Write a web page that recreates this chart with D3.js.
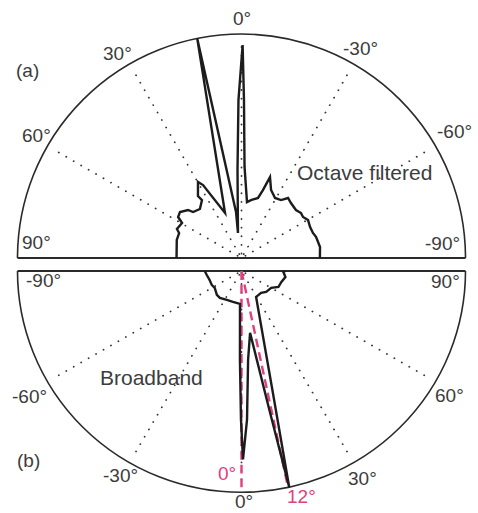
<html>
<head>
<meta charset="utf-8">
<title>Polar directivity</title>
<style>
body { margin:0; background:#fff; }
text { font-family: "Liberation Sans", Arial, Helvetica, sans-serif; fill:#3c3c3c; font-size:19px; }
.rim { fill:none; stroke:#2a2a2a; stroke-width:1.6; }
.base { stroke:#2a2a2a; stroke-width:2; }
.grid { fill:none; stroke:#333; stroke-width:1.8; stroke-linecap:round; stroke-dasharray:0.1 8.5; }
.curve { fill:none; stroke:#1c1c1c; stroke-width:2.4; stroke-linejoin:miter; }
.pink { fill:none; stroke:#e0407e; stroke-width:2.4; stroke-dasharray:9 5; }
</style>
</head>
<body>
<script src="https://d3js.org/d3.v7.min.js"></script>
<script>
// (a) octave filtered, angle in degrees (positive = left, 0 = up), normalised level
var octAngle = [90, 74.4, 68.2, 65.8, 59.5, 57.1, 53.2, 48.1, 46.5, 40.3, 34.3, 35.1, 29.8, 27.8, 20.1, 11.4,
                6.8, 8.0, 2.6, 1.1, -0.3, -0.9, -1.9, -5.6, -9.3, -15.4, -17.5, -19.4, -23.5, -29.2, -34.3,
                -37.8, -42, -48.6, -52.9, -56.3, -60.3, -65.7, -70.7, -74.3, -82, -90];
var octLevel = [0.29, 0.30, 0.30, 0.316, 0.308, 0.337, 0.343, 0.321, 0.298, 0.287, 0.313, 0.338, 0.391, 0.368, 0.214, 1.0,
                0.207, 0.113, 0.393, 0.705, 0.951, 0.705, 0.408, 0.251, 0.262, 0.278, 0.318, 0.383, 0.331, 0.307, 0.313,
                0.339, 0.330, 0.324, 0.333, 0.330, 0.342, 0.336, 0.338, 0.346, 0.354, 0.35];

// (b) broadband, angle in degrees (positive = right, 0 = down)
var bbAngle = [-90, -83.4, -74.1, -64.6, -57.3, -45.6, -38.5, -26.6, -15.3, -2.6, -1.0, -0.2, 0.45, 2.1, 4.2, 7.8,
               11.2, 12.3, 14.4, 29.1, 41.6, 49.4, 60.0, 66.3, 74.4, 82.1, 88.6, 90];
var bbLevel = [0.164, 0.156, 0.148, 0.147, 0.142, 0.154, 0.155, 0.146, 0.145, 0.149, 0.401, 0.671, 0.851, 0.672, 0.402, 0.282,
               0.638, 1.0, 0.553, 0.134, 0.132, 0.145, 0.153, 0.180, 0.185, 0.198, 0.187, 0.196];

var gridAngles = [-60, -30, 0, 30, 60];
var pinkAngles = [0, 12];

var topLabels = ["0°", "30°", "60°", "90°", "-30°", "-60°", "-90°"];
var botLabels = ["-90°", "90°", "-60°", "60°", "-30°", "30°", "0°"];

var width = 478, height = 513;
var cx = 241.5, topY = 258, botY = 271, R = 224;

var svg = d3.select("body").append("svg")
    .attr("width", width)
    .attr("height", height);

var rScale = d3.scaleLinear().domain([0, 1]).range([0, R]);
var aTop = d3.scaleLinear().domain([-90, 90]).range([Math.PI / 2, -Math.PI / 2]);
var aBot = d3.scaleLinear().domain([-90, 90]).range([3 * Math.PI / 2, Math.PI / 2]);

function drawHalf(g, aScale, up) {
    var p = d3.path();
    p.moveTo(-R, 0);
    if (up) p.arc(0, 0, R, Math.PI, 2 * Math.PI);
    else p.arc(0, 0, R, Math.PI, 0, true);
    g.append("path").attr("class", "rim").attr("d", p.toString());

    g.append("line").attr("class", "base")
        .attr("x1", -R).attr("x2", R).attr("y1", 0).attr("y2", 0);

    var radial = d3.lineRadial()
        .angle(function(d){ return aScale(d[0]); })
        .radius(function(d){ return rScale(d[1]); });

    g.selectAll(".grid")
        .data(gridAngles)
        .enter().append("path")
        .attr("class", "grid")
        .attr("d", function(a){ return radial([[a, 0.02], [a, 0.96]]); });
    return radial;
}

var gTop = svg.append("g").attr("transform", "translate(" + cx + "," + topY + ")");
var radTop = drawHalf(gTop, aTop, true);
gTop.append("path")
    .attr("class", "curve")
    .attr("d", radTop(octAngle.map(function(a, i){ return [a, octLevel[i]]; })));

var gBot = svg.append("g").attr("transform", "translate(" + cx + "," + botY + ") scale(1,0.988)");
var radBot = drawHalf(gBot, aBot, false);
gBot.selectAll(".pink")
    .data(pinkAngles)
    .enter().append("path")
    .attr("class", "pink")
    .attr("d", function(a){ return radBot([[a, 0], [a, 1]]); });
gBot.append("path")
    .attr("class", "curve")
    .attr("d", radBot(bbAngle.map(function(a, i){ return [a, bbLevel[i]]; })));

// label placement (left x, baseline y)
var topPos = [[233, 25], [103, 60], [22, 142], [22, 249], [343, 55], [437, 138], [425, 250]];
var botPos = [[26, 287], [431, 288], [12, 403], [435, 402], [103, 482], [348, 485], [235, 508]];

svg.selectAll(".tlab")
    .data(topLabels)
    .enter().append("text")
    .attr("class", "tlab")
    .attr("x", function(d, i){ return topPos[i][0]; })
    .attr("y", function(d, i){ return topPos[i][1]; })
    .text(function(d){ return d; });

svg.selectAll(".blab")
    .data(botLabels)
    .enter().append("text")
    .attr("class", "blab")
    .attr("x", function(d, i){ return botPos[i][0]; })
    .attr("y", function(d, i){ return botPos[i][1]; })
    .text(function(d){ return d; });

svg.append("text").attr("x", 16).attr("y", 77).text("(a)");
svg.append("text").attr("x", 17).attr("y", 467).text("(b)");
svg.append("text").attr("x", 297).attr("y", 180).style("font-size", "21px").text("Octave filtered");
svg.append("text").attr("x", 100).attr("y", 385).style("font-size", "21px").text("Broadband");

svg.append("text").attr("x", 218).attr("y", 480).style("fill", "#e0407e").text(pinkAngles[0] + "°");
svg.append("text").attr("x", 287).attr("y", 503).style("fill", "#e0407e").text(pinkAngles[1] + "°");
</script>
</body>
</html>
